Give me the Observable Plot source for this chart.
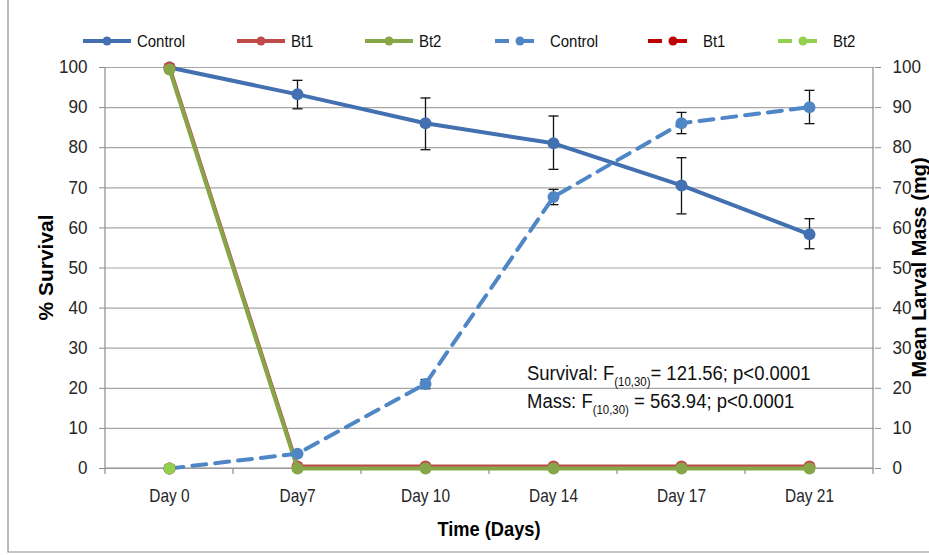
<!DOCTYPE html>
<html><head><meta charset="utf-8">
<script src="https://cdn.jsdelivr.net/npm/d3@7"></script>
<script src="https://cdn.jsdelivr.net/npm/@observablehq/plot@0.6"></script>
<style>
html,body{margin:0;padding:0;background:#fff;}
#chart{position:relative;width:929px;height:555px;overflow:hidden;}
</style></head><body><div id="chart"></div>
<script>
// ---- data ----
const days = ["Day 0", "Day7", "Day 10", "Day 14", "Day 17", "Day 21"];
const yTicks = [0, 10, 20, 30, 40, 50, 60, 70, 80, 90, 100];

const survControl   = [100, 93.3, 86.1, 81.1, 70.6, 58.4];
const survControlHi = [null, 96.8, 92.4, 87.9, 77.5, 62.3];
const survControlLo = [null, 89.7, 79.5, 74.6, 63.5, 54.8];
const survBt1 = [100, 0.5, 0.5, 0.5, 0.5, 0.5];
const survBt2 = [99.5, 0, 0, 0, 0, 0];

const massControl   = [0, 3.7, 21.1, 67.7, 86.1, 90.1];
const massControlHi = [null, null, 22.2, 69.6, 88.8, 94.3];
const massControlLo = [null, null, 19.9, 65.8, 83.5, 86.0];
const massBt1 = [0, null, null, null, null, null];
const massBt2 = [0, null, null, null, null, null];

const legendLabels = ["Control", "Bt1", "Bt2", "Control", "Bt1", "Bt2"];
const statLines = [
  ["Survival: F", "(10,30)", "= 121.56; p<0.0001"],
  ["Mass: F", "(10,30)", " = 563.94; p<0.0001"]
];

// ---- styles ----
const COL = {
  survCtrl: "#4270B0", survBt1: "#BE4B48", survBt2: "#86A648",
  massCtrl: "#4F86C6", massBt1: "#C00000", massBt2: "#92D050"
};
const SANS = "'Liberation Sans',Arial,sans-serif";

const rows = (vals, lo, hi) => days.map((day, i) => ({day, v: vals[i], lo: lo ? lo[i] : null, hi: hi ? hi[i] : null}));
const sC = rows(survControl, survControlLo, survControlHi);
const s1 = rows(survBt1), s2 = rows(survBt2);
const mC = rows(massControl, massControlLo, massControlHi);
const m1 = rows(massBt1).filter(d => d.v != null), m2 = rows(massBt2).filter(d => d.v != null);
const withErr = a => a.filter(d => d.hi != null);

const capSymbol = {draw(ctx) { ctx.moveTo(-5, 0); ctx.lineTo(5, 0); }};

const errMarks = data => [
  Plot.ruleX(withErr(data), {x: "day", y1: "lo", y2: "hi", stroke: "#111", strokeWidth: 1.3}),
  Plot.dot(withErr(data), {x: "day", y: "hi", symbol: capSymbol, stroke: "#111", strokeWidth: 1.3, fill: "none"}),
  Plot.dot(withErr(data), {x: "day", y: "lo", symbol: capSymbol, stroke: "#111", strokeWidth: 1.3, fill: "none"})
];

const plot = Plot.plot({
  width: 929, height: 555,
  marginLeft: 104, marginRight: 55, marginTop: 67, marginBottom: 87,
  style: {fontFamily: SANS, fontSize: "18px", background: "transparent", overflow: "visible"},
  x: {type: "point", domain: days, padding: 0.5, label: null},
  y: {domain: [0, 100], label: null},
  marks: [
    Plot.ruleY(yTicks, {stroke: "#A6A6A6", strokeWidth: 1.2}),
    Plot.axisY({anchor: "left", ticks: yTicks, tickSize: 5, tickPadding: 12, label: null, stroke: "#8C8C8C", fill: "#262626", fontSize: 18}),
    Plot.axisY({anchor: "right", ticks: yTicks, tickSize: 6, tickPadding: 12, label: null, stroke: "#8C8C8C", fill: "#262626", fontSize: 18}),
    Plot.axisX({ticks: days, tickSize: 0, tickPadding: 21, label: null, fill: "#262626", fontSize: 18}),
    ...errMarks(sC),
    Plot.line(sC, {x: "day", y: "v", stroke: COL.survCtrl, strokeWidth: 4}),
    Plot.dot(sC, {x: "day", y: "v", r: 6, fill: COL.survCtrl}),
    Plot.line(s1, {x: "day", y: "v", stroke: COL.survBt1, strokeWidth: 4}),
    Plot.dot(s1, {x: "day", y: "v", r: 6, fill: COL.survBt1}),
    Plot.line(s2, {x: "day", y: "v", stroke: COL.survBt2, strokeWidth: 4}),
    Plot.dot(s2, {x: "day", y: "v", r: 6, fill: COL.survBt2}),
    ...errMarks(mC),
    Plot.line(mC, {x: "day", y: "v", stroke: COL.massCtrl, strokeWidth: 4, strokeDasharray: "14,9"}),
    Plot.dot(mC, {x: "day", y: "v", r: 6, fill: COL.massCtrl}),
    Plot.dot(m1, {x: "day", y: "v", r: 6, fill: COL.massBt1}),
    Plot.dot(m2, {x: "day", y: "v", r: 6, fill: COL.massBt2})
  ]
});
document.getElementById("chart").appendChild(plot);

// condense horizontal text (the reference uses a narrow face)
function condense(node, k) {
  const x = +(node.getAttribute("x") || 0);
  const t = node.getAttribute("transform") || "";
  node.setAttribute("transform", `${t} translate(${x},0) scale(${k},1) translate(${-x},0)`);
}

// ---- decorations derived from the scales ----
const svg = d3.select(plot);
svg.selectAll('g[aria-label="x-axis tick label"] text').each(function() { condense(this, 0.86); });
svg.selectAll('g[aria-label="y-axis tick label"] text').each(function() { condense(this, 0.95); });

const xs = plot.scale("x"), ys = plot.scale("y");
const step = xs.apply(days[1]) - xs.apply(days[0]);
const xl = xs.apply(days[0]) - step / 2, xr = xs.apply(days[days.length - 1]) + step / 2;
const y0 = ys.apply(0), y100 = ys.apply(100);
const deco = svg.insert("g", ":scope > g:nth-of-type(5)").attr("stroke", "#8C8C8C").attr("stroke-width", 1.2);
deco.append("line").attr("x1", xl).attr("x2", xl).attr("y1", y100).attr("y2", y0);
deco.append("line").attr("x1", xr).attr("x2", xr).attr("y1", y100).attr("y2", y0);
deco.append("line").attr("x1", xl).attr("x2", xr).attr("y1", y0).attr("y2", y0);
for (let i = 0; i <= days.length; i++) {
  const bx = xl + i * step;
  deco.append("line").attr("x1", bx).attr("x2", bx).attr("y1", y0).attr("y2", y0 + 6);
}

// chart border (left + bottom)
svg.append("path").attr("d", "M8,0V552H929").attr("fill", "none").attr("stroke", "#8C8C8C").attr("stroke-width", 1.2);

// axis titles
svg.append("text").attr("transform", `translate(53,${(y0 + y100) / 2}) rotate(-90)`)
  .attr("text-anchor", "middle").attr("font-family", SANS).attr("font-weight", "bold").attr("font-size", 21).attr("fill", "#000").text("% Survival");
svg.append("text").attr("transform", `translate(925.5,${(y0 + y100) / 2}) rotate(-90)`)
  .attr("text-anchor", "middle").attr("font-family", SANS).attr("font-weight", "bold").attr("font-size", 20).attr("fill", "#000").text("Mean Larval Mass (mg)");
svg.append("text").attr("transform", `translate(${(xl + xr) / 2},536) scale(0.87,1)`)
  .attr("text-anchor", "middle").attr("font-family", SANS).attr("font-weight", "bold").attr("font-size", 21).attr("fill", "#000").text("Time (Days)");

// statistics annotation
const ax = xs.apply("Day 14") - 26;
[22, 15].forEach((yv, k) => {
  const t = svg.append("text").attr("transform", `translate(${ax},${ys.apply(yv)}) scale(0.88,1)`)
    .attr("text-anchor", "start").attr("font-family", SANS).attr("font-size", 21).attr("fill", "#111");
  t.append("tspan").text(statLines[k][0]);
  t.append("tspan").attr("dy", 6).attr("font-size", 13).text(statLines[k][1]);
  t.append("tspan").attr("dy", -6).text(statLines[k][2]);
});

// legend
const legendItems = [
  {x: 83, color: COL.survCtrl, dashed: false},
  {x: 237, color: COL.survBt1, dashed: false},
  {x: 365, color: COL.survBt2, dashed: false},
  {x: 495, color: COL.massCtrl, dashed: true},
  {x: 648, color: COL.massBt1, dashed: true},
  {x: 778, color: COL.massBt2, dashed: true}
];
const lg = svg.append("g");
legendItems.forEach((it, i) => {
  const ly = 41;
  const g = lg.append("g");
  let tx;
  if (!it.dashed) {
    g.append("line").attr("x1", it.x).attr("x2", it.x + 48).attr("y1", ly).attr("y2", ly).attr("stroke", it.color).attr("stroke-width", 4);
    g.append("circle").attr("cx", it.x + 24).attr("cy", ly).attr("r", 4.5).attr("fill", it.color);
    tx = it.x + 54;
  } else {
    g.append("line").attr("x1", it.x).attr("x2", it.x + 14).attr("y1", ly).attr("y2", ly).attr("stroke", it.color).attr("stroke-width", 4);
    g.append("line").attr("x1", it.x + 24).attr("x2", it.x + 39).attr("y1", ly).attr("y2", ly).attr("stroke", it.color).attr("stroke-width", 4);
    g.append("circle").attr("cx", it.x + 25).attr("cy", ly).attr("r", 4.5).attr("fill", it.color);
    tx = it.x + 55;
  }
  g.append("text").attr("transform", `translate(${tx},${ly + 6}) scale(0.88,1)`).attr("text-anchor", "start")
    .attr("font-family", SANS).attr("font-size", 17).attr("fill", "#111").text(legendLabels[i]);
});
</script></body></html>
